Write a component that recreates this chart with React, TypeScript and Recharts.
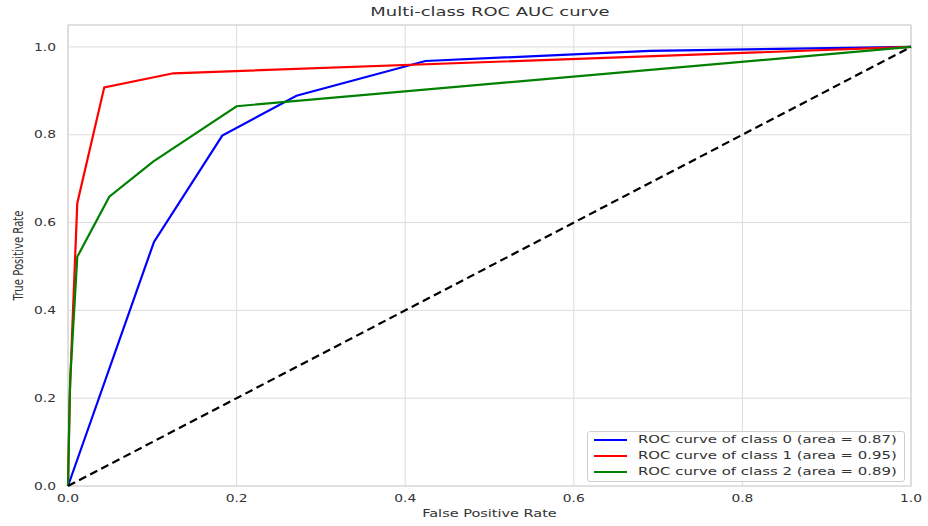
import {
  CartesianGrid,
  Legend,
  Line,
  LineChart,
  ReferenceArea,
  XAxis,
  YAxis,
} from "recharts";

const FONT = "'DejaVu Sans', sans-serif";
const STRETCH = 1.38;

const xTicks = [0, 0.2, 0.4, 0.6, 0.8, 1.0];
const yTicks = [0, 0.2, 0.4, 0.6, 0.8, 1.0];

const class0Fpr = [0, 0.102, 0.183, 0.271, 0.424, 0.69, 1];
const class0Tpr = [0, 0.556, 0.798, 0.889, 0.968, 0.991, 1];

const class1Fpr = [0, 0.002, 0.0045, 0.011, 0.043, 0.125, 1];
const class1Tpr = [0, 0.2, 0.33, 0.644, 0.908, 0.94, 1];

const class2Fpr = [0, 0.0025, 0.011, 0.049, 0.101, 0.2, 1];
const class2Tpr = [0, 0.24, 0.522, 0.659, 0.739, 0.865, 1];

const chanceFpr = [0, 1];
const chanceTpr = [0, 1];

const series = [
  { name: "ROC curve of class 0 (area = 0.87)", fpr: class0Fpr, tpr: class0Tpr, color: "#0000ff" },
  { name: "ROC curve of class 1 (area = 0.95)", fpr: class1Fpr, tpr: class1Tpr, color: "#ff0000" },
  { name: "ROC curve of class 2 (area = 0.89)", fpr: class2Fpr, tpr: class2Tpr, color: "#008000" },
];

const toRows = (fpr: number[], tpr: number[]) => fpr.map((x, i) => ({ x, y: tpr[i] }));

const XTick = ({ x, y, payload }: any) => (
  <text
    transform={`translate(${x},${y + 16}) scale(${STRETCH},1)`}
    textAnchor="middle"
    fontSize={10}
    fontFamily={FONT}
    fill="#333"
  >
    {Number(payload.value).toFixed(1)}
  </text>
);

const YTick = ({ x, y, payload }: any) => (
  <text
    transform={`translate(${x - 12},${y + 3.7}) scale(${STRETCH},1)`}
    textAnchor="end"
    fontSize={10}
    fontFamily={FONT}
    fill="#333"
  >
    {Number(payload.value).toFixed(1)}
  </text>
);

const RocLegend = ({ payload }: any) => (
  <div
    style={{
      width: 316,
      height: 49,
      border: "1px solid #d0d0d0",
      borderRadius: 3,
      background: "rgba(255,255,255,0.8)",
      fontFamily: FONT,
      fontSize: 10.8,
      color: "#333",
    }}
  >
    {(payload || [])
      .filter((p: any) => p.type !== "none" && p.value !== "chance")
      .map((p: any) => (
        <div key={p.value} style={{ height: 16, position: "relative" }}>
          <div
            style={{
              position: "absolute",
              left: 6,
              top: 7,
              width: 33,
              height: 2,
              background: p.color,
            }}
          />
          <span
            style={{
              position: "absolute",
              left: 50,
              top: 1,
              whiteSpace: "nowrap",
              transform: `scaleX(${STRETCH})`,
              transformOrigin: "left center",
              lineHeight: "14px",
            }}
          >
            {p.value}
          </span>
        </div>
      ))}
  </div>
);

export default function App() {
  return (
    <div style={{ position: "absolute", left: 0, top: 0, width: 928, height: 526, background: "#fff" }}>
      <div
        style={{
          position: "absolute",
          left: 489.5,
          top: 4,
          fontFamily: FONT,
          fontSize: 13,
          color: "#333",
          whiteSpace: "nowrap",
          transform: `translateX(-50%) scaleX(${STRETCH})`,
        }}
      >
        Multi-class ROC AUC curve
      </div>
      <LineChart width={928} height={526} margin={{ top: 25, right: 17, bottom: 0, left: 0 }}>
        <CartesianGrid stroke="#dcdcdc" strokeWidth={1} />
        <ReferenceArea x1={0} x2={1} y1={0} y2={1.05} fill="none" stroke="#d4d4d4" strokeWidth={1.2} />
        <XAxis
          dataKey="x"
          type="number"
          domain={[0, 1]}
          ticks={xTicks}
          height={40}
          axisLine={false}
          tickLine={false}
          tickSize={0}
          tickMargin={0}
          tick={<XTick />}
          allowDuplicatedCategory={false}
          label={{
            value: "False Positive Rate",
            content: (props: any) => {
              const vb = props.viewBox || { x: 68, y: 486, width: 843 };
              return (
                <text
                  transform={`translate(${vb.x + vb.width / 2},${vb.y + 31}) scale(${STRETCH},1)`}
                  textAnchor="middle"
                  fontSize={10.5}
                  fontFamily={FONT}
                  fill="#333"
                >
                  False Positive Rate
                </text>
              );
            },
          }}
        />
        <YAxis
          type="number"
          domain={[0, 1.05]}
          ticks={yTicks}
          width={68}
          axisLine={false}
          tickLine={false}
          tickSize={0}
          tickMargin={0}
          tick={<YTick />}
          label={{
            value: "True Positive Rate",
            content: (props: any) => {
              const vb = props.viewBox || { x: 0, y: 25, width: 68, height: 461 };
              return (
                <text
                  transform={`translate(23,${vb.y + vb.height / 2}) rotate(-90) scale(0.75,1)`}
                  textAnchor="middle"
                  fontSize={13.5}
                  fontFamily={FONT}
                  fill="#333"
                >
                  True Positive Rate
                </text>
              );
            },
          }}
        />
        {series.map((s) => (
          <Line
            key={s.name}
            data={toRows(s.fpr, s.tpr)}
            dataKey="y"
            name={s.name}
            type="linear"
            stroke={s.color}
            strokeWidth={2.2}
            dot={false}
            activeDot={false}
            isAnimationActive={false}
          />
        ))}
        <Line
          data={toRows(chanceFpr, chanceTpr)}
          dataKey="y"
          name="chance"
          type="linear"
          stroke="#000"
          strokeWidth={2.2}
          strokeDasharray="8 4.5"
          dot={false}
          activeDot={false}
          legendType="none"
          isAnimationActive={false}
        />
        <Legend
          layout="vertical"
          align="center"
          verticalAlign="middle"
          content={<RocLegend />}
          wrapperStyle={{ position: "absolute", left: 587, top: 431, width: 318, height: 51 }}
        />
      </LineChart>
    </div>
  );
}
